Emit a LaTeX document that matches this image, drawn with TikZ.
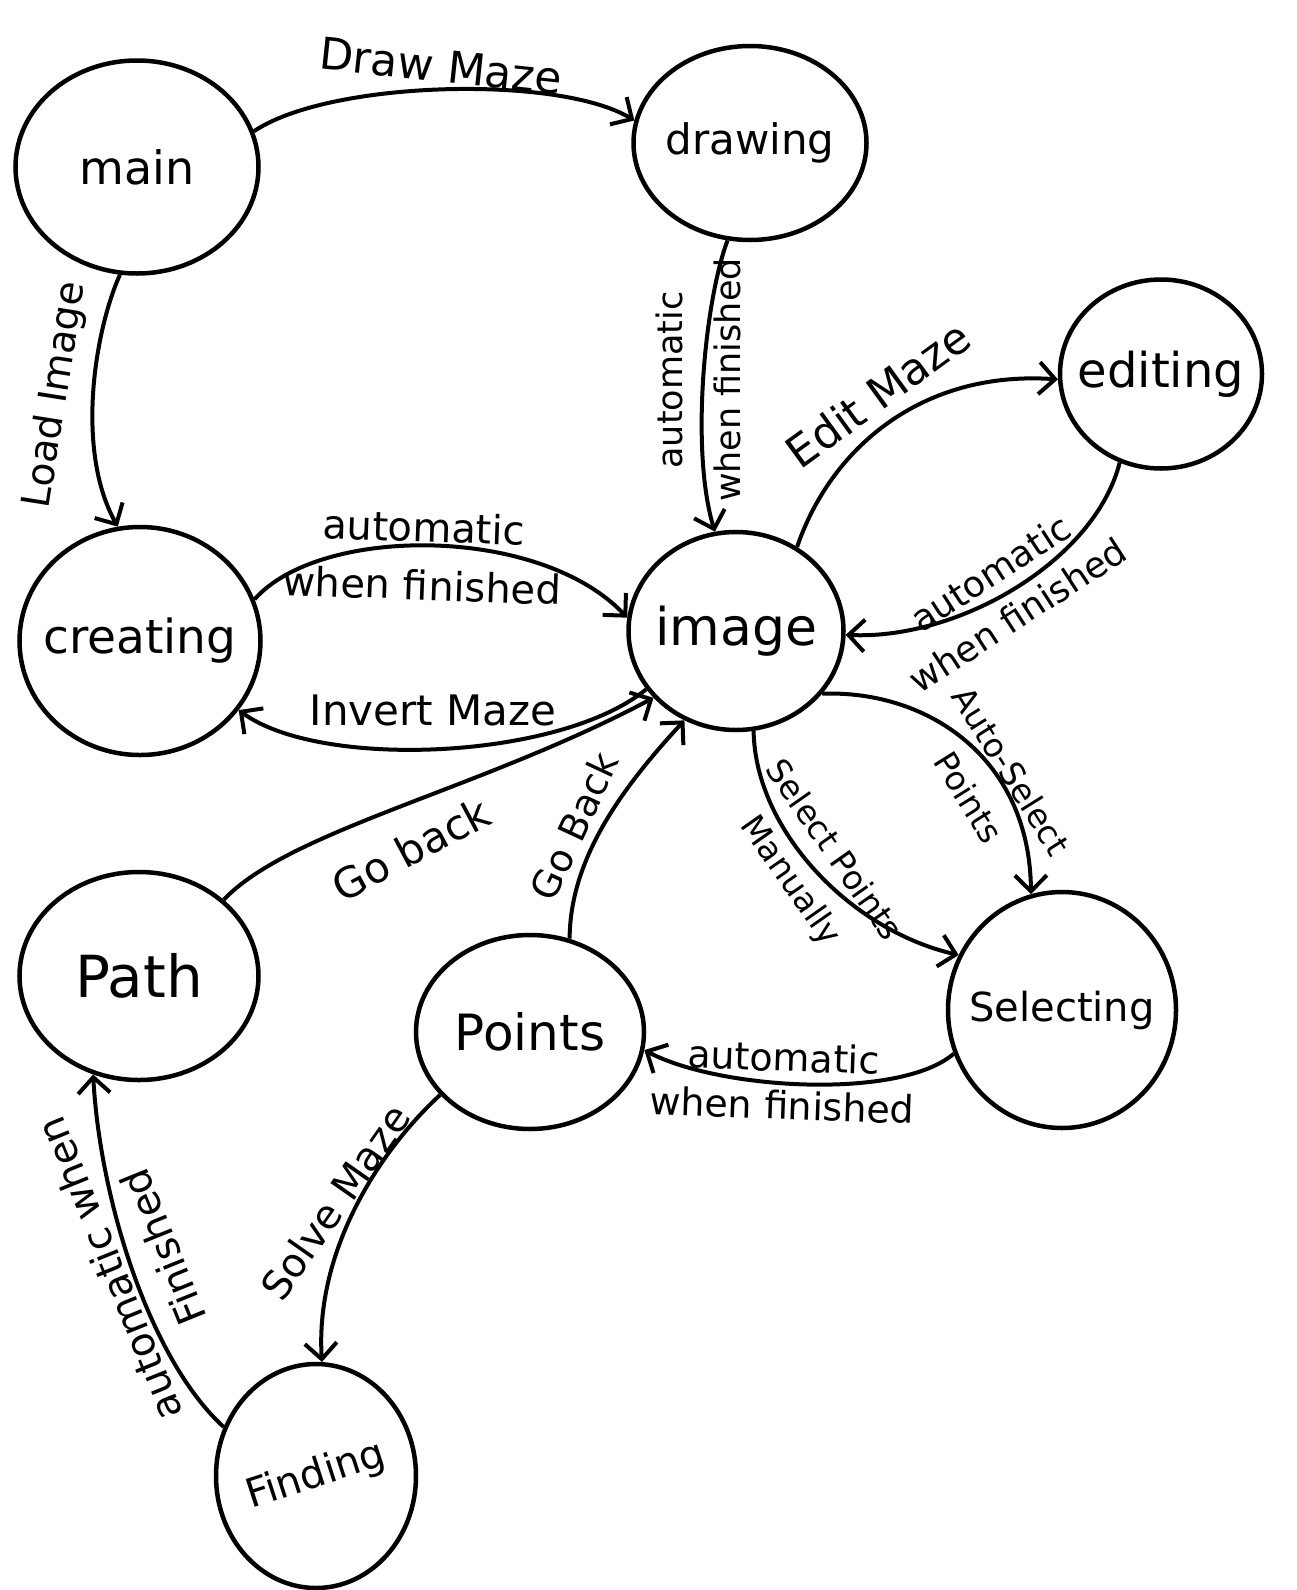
\documentclass[tikz,border=0pt]{standalone}
\usepackage{fontspec}
\setmainfont{DejaVu Sans}
\usetikzlibrary{arrows.meta,shapes.geometric}
\begin{document}
\begin{tikzpicture}[x=1pt,y=1pt,
  state/.style={draw, ellipse, line width=4.5pt, inner sep=0pt, font=\fontsize{46}{55}\selectfont},
  edge/.style={line width=4pt, -{Straight Barb[length=16pt,width=32pt,line width=4pt]}},
  lab/.style 2 args={font=\fontsize{#1}{#2}\selectfont, align=center, inner sep=0pt}]
\fill[white] (0,0) rectangle (1296,-1590);
\useasboundingbox (0,0) rectangle (1296,-1590);

% states
\node[state, minimum width=243pt, minimum height=213pt] (main) at (137,-167) {\makebox[0pt]{main}};
\node[state, minimum width=233pt, minimum height=194pt, font=\fontsize{42}{50}\selectfont] (drawing) at (750,-143) {\makebox[0pt]{drawing}};
\node[state, minimum width=202pt, minimum height=189pt, font=\fontsize{48}{56}\selectfont] (editing) at (1161,-374) {\makebox[0pt]{editing}};
\node[state, minimum width=241pt, minimum height=228pt, font=\fontsize{47}{56}\selectfont] (creating) at (140,-641) {\makebox[0pt]{creating}};
\node[state, minimum width=215pt, minimum height=198pt, font=\fontsize{52}{60}\selectfont] (image) at (736,-631) {\makebox[0pt]{image}};
\node[state, minimum width=239pt, minimum height=208pt, font=\fontsize{58}{66}\selectfont] (path) at (139,-976) {\makebox[0pt]{Path}};
\node[state, minimum width=228pt, minimum height=194pt, font=\fontsize{50}{60}\selectfont] (points) at (530,-1032) {\makebox[0pt]{Points}};
\node[state, minimum width=228pt, minimum height=236pt, font=\fontsize{40}{48}\selectfont] (selecting) at (1062,-1010) {\makebox[0pt]{Selecting}};
\node[state, minimum width=200pt, minimum height=224pt, font=\fontsize{40}{48}\selectfont] (finding) at (316,-1476) {\makebox[0pt]{\rotatebox{18}{Finding}}};

% connectors
\draw[edge] (main.17) .. controls (330,-80) and (560,-75) .. (drawing.169);
\draw[edge] (main.261) .. controls (95,-330) and (75,-450) .. (creating.101);
\draw[edge] (drawing.257) .. controls (705,-300) and (690,-450) .. (image.102);
\draw[edge] (creating.20) .. controls (320,-525) and (540,-525) .. (image.173);
\draw[edge] (image.213) .. controls (560,-760) and (320,-770) .. (creating.325);
\draw[edge] (image.54) .. controls (830,-450) and (920,-370) .. (editing.183);
\draw[edge] (editing.245) .. controls (1095,-560) and (960,-640) .. (image.-2);
\draw[edge] (image.324) .. controls (930,-690) and (1030,-760) .. (selecting.105);
\draw[edge] (image.280) .. controls (755,-830) and (850,-930) .. (selecting.152);
\draw[edge] (selecting.202) .. controls (900,-1100) and (720,-1090) .. (points.351);
\draw[edge] (points.67) .. controls (570,-860) and (620,-790) .. (image.240);
\draw[edge] (path.42) .. controls (290,-830) and (480,-790) .. (image.219);
\draw[edge] (points.215) .. controls (380,-1150) and (315,-1250) .. (finding.87);
\draw[edge] (finding.152) .. controls (150,-1360) and (100,-1200) .. (path.245);

% labels
\node[lab={44}{56}, rotate=-6] (lDraw) at (441,-66) {Draw Maze};
\node[lab={39}{54}, rotate=81] (lLoad) at (56,-395) {Load Image};
\node[lab={35}{58}, rotate=90] (lDrawAuto) at (698,-380) {automatic\\when finished};
\node[lab={40}{58}, rotate=-2] (lCreateAuto) at (423,-556) {automatic\\when finished};
\node[lab={42}{56}] (lInvert) at (433,-710) {Invert Maze};
\node[lab={44}{56}, rotate=36] (lEdit) at (878,-394) {Edit Maze};
\node[lab={36}{50}, rotate=33] (lEditAuto) at (1004,-594) {automatic\\when finished};
\node[lab={33}{50}, rotate=-58] (lAutoSel) at (990,-784) {Auto-Select\\Points};
\node[lab={33}{52}, rotate=-55] (lManSel) at (811,-866) {Select Points\\Manually};
\node[lab={38}{48}, rotate=-2] (lSelAuto) at (783,-1081) {automatic\\when finished};
\node[lab={38}{50}, rotate=65] (lGoBack) at (574,-826) {Go Back};
\node[lab={42}{50}, rotate=28] (lGoBackPath) at (411,-849) {Go back};
\node[lab={40}{50}, rotate=55] (lSolve) at (335,-1202) {Solve Maze};
\node[lab={40}{58}, rotate=112] (lFindAuto) at (136,-1258) {automatic when\\Finished};
\end{tikzpicture}
\end{document}
